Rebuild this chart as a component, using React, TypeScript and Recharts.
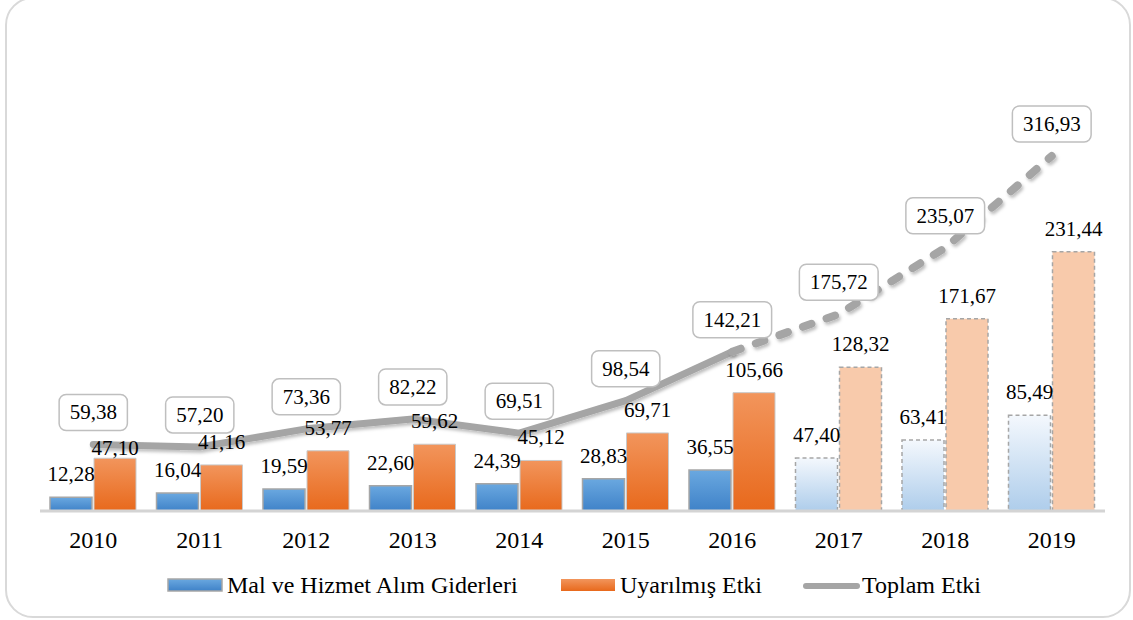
import React from 'react';
import { ComposedChart, Bar, Line, XAxis, YAxis, Cell, LabelList } from 'recharts';

const years = ['2010', '2011', '2012', '2013', '2014', '2015', '2016', '2017', '2018', '2019'];
const malHizmet = [12.28, 16.04, 19.59, 22.6, 24.39, 28.83, 36.55, 47.4, 63.41, 85.49];
const uyarilmis = [47.1, 41.16, 53.77, 59.62, 45.12, 69.71, 105.66, 128.32, 171.67, 231.44];
const toplam = [59.38, 57.2, 73.36, 82.22, 69.51, 98.54, 142.21, 175.72, 235.07, 316.93];
const lastActualIndex = 6;

const seriesNames = ['Mal ve Hizmet Alım Giderleri', 'Uyarılmış Etki', 'Toplam Etki'];

const data = years.map((y, i) => ({
  year: y,
  mal: malHizmet[i],
  uyar: uyarilmis[i],
  total: toplam[i],
  totalActual: i <= lastActualIndex ? toplam[i] : null,
  totalForecast: i >= lastActualIndex ? toplam[i] : null,
}));

const FONT = '"Liberation Serif", "Times New Roman", serif';
const fmt = (v: number) => v.toFixed(2).replace('.', ',');
const textWidth = (s: string, fs: number) =>
  s.split('').reduce((a, c) => a + (c === ',' ? 0.25 : 0.5) * fs, 0);

const BarLabel = (extraFirst: number) => (props: any) => {
  const { x, y, width, value, index } = props;
  const dy = index === 0 ? extraFirst : 0;
  return (
    <text x={x + width / 2} y={y - 16 + dy} textAnchor="middle" fontSize={21} fontFamily={FONT} fill="#000">
      {fmt(value)}
    </text>
  );
};

const LineLabel = (props: any) => {
  const { x, y, value } = props;
  if (value == null) return null;
  const s = fmt(value);
  const w = textWidth(s, 21) + 21;
  const cy = y - 32;
  return (
    <g>
      <rect x={x - w / 2} y={cy - 18} width={w} height={36} rx={7} ry={7} fill="#fff" stroke="#bfbfbf" strokeWidth={1.5} />
      <text x={x} y={cy + 7} textAnchor="middle" fontSize={21} fontFamily={FONT} fill="#000">
        {s}
      </text>
    </g>
  );
};

const Legend = () => (
  <div style={{ position: 'absolute', left: 0, top: 570, width: 1133, height: 30 }}>
    <svg width={1133} height={30}>
      <defs>
        <linearGradient id="lgBlue" x1="0" y1="0" x2="0" y2="1">
          <stop offset="0%" stopColor="#6aa8e0" />
          <stop offset="100%" stopColor="#3f82c8" />
        </linearGradient>
        <linearGradient id="lgOrange" x1="0" y1="0" x2="0" y2="1">
          <stop offset="0%" stopColor="#f2955c" />
          <stop offset="100%" stopColor="#e8691c" />
        </linearGradient>
      </defs>
      <rect x={168} y={9} width={54} height={12} fill="url(#lgBlue)" stroke="#a6a6a6" strokeWidth={1.5} />
      <text x={227} y={23} fontSize={24} fontFamily={FONT} fill="#000">{seriesNames[0]}</text>
      <rect x={561} y={9} width={54} height={12} fill="url(#lgOrange)" />
      <text x={620} y={23} fontSize={24} fontFamily={FONT} fill="#000">{seriesNames[1]}</text>
      <line x1={806} y1={16} x2={857} y2={16} stroke="#a5a5a5" strokeWidth={6} strokeLinecap="round" />
      <text x={862} y={23} fontSize={24} fontFamily={FONT} fill="#000">{seriesNames[2]}</text>
    </svg>
  </div>
);

export default function App() {
  return (
    <div style={{ position: 'absolute', left: 0, top: 0, width: 1133, height: 620, background: '#fff', overflow: 'hidden' }}>
      <div
        style={{
          position: 'absolute',
          left: 5,
          top: -3,
          width: 1126,
          height: 621,
          boxSizing: 'border-box',
          border: '2px solid #d9d9d9',
          borderRadius: 28,
        }}
      />
      <div style={{ position: 'absolute', left: 0, top: 0 }}>
        <ComposedChart
          width={1133}
          height={620}
          data={data}
          margin={{ top: 63, right: 28, left: 40, bottom: 69 }}
          barCategoryGap={10}
          barGap={2}
        >
          <defs>
            <linearGradient id="gBlue" x1="0" y1="0" x2="0" y2="1">
              <stop offset="0%" stopColor="#6aa8e0" />
              <stop offset="100%" stopColor="#3f82c8" />
            </linearGradient>
            <linearGradient id="gOrange" x1="0" y1="0" x2="0" y2="1">
              <stop offset="0%" stopColor="#f2955c" />
              <stop offset="100%" stopColor="#e8691c" />
            </linearGradient>
            <linearGradient id="gBlueFc" x1="0" y1="0" x2="0" y2="1">
              <stop offset="0%" stopColor="#f4f8fd" />
              <stop offset="100%" stopColor="#aecdeb" />
            </linearGradient>
            <filter id="shadow" x="-20%" y="-20%" width="140%" height="140%">
              <feDropShadow dx="1.5" dy="2.5" stdDeviation="1.5" floodColor="#000" floodOpacity="0.25" />
            </filter>
          </defs>
          <XAxis
            dataKey="year"
            height={40}
            axisLine={{ stroke: '#d4d4d4', strokeWidth: 3 }}
            tickLine={false}
            tickSize={0}
            tickMargin={20}
            tick={{ fontSize: 24, fontFamily: FONT, fill: '#000' }}
            interval={0}
          />
          <YAxis hide domain={[0, 400]} />
          <Bar dataKey="mal" name={seriesNames[0]} isAnimationActive={false}>
            {data.map((d, i) => (
              <Cell
                key={`m${i}`}
                fill={i <= lastActualIndex ? 'url(#gBlue)' : 'url(#gBlueFc)'}
                stroke="#a6a6a6"
                strokeWidth={1.5}
                strokeDasharray={i <= lastActualIndex ? undefined : '4 3'}
              />
            ))}
            <LabelList dataKey="mal" content={BarLabel(0)} />
          </Bar>
          <Bar dataKey="uyar" name={seriesNames[1]} isAnimationActive={false}>
            {data.map((d, i) => (
              <Cell
                key={`u${i}`}
                fill={i <= lastActualIndex ? 'url(#gOrange)' : '#f8caab'}
                stroke={i <= lastActualIndex ? '#c9c9c9' : '#a6a6a6'}
                strokeWidth={i <= lastActualIndex ? 1 : 1.5}
                strokeDasharray={i <= lastActualIndex ? undefined : '4 3'}
              />
            ))}
            <LabelList dataKey="uyar" content={BarLabel(13)} />
          </Bar>
          <Line
            dataKey="totalActual"
            name={seriesNames[2]}
            stroke="#a5a5a5"
            strokeWidth={7}
            strokeLinecap="round"
            strokeLinejoin="round"
            dot={false}
            activeDot={false}
            connectNulls={false}
            filter="url(#shadow)"
            isAnimationActive={false}
          />
          <Line
            dataKey="totalForecast"
            name={seriesNames[2]}
            stroke="#a5a5a5"
            strokeWidth={8}
            strokeDasharray="9 16"
            strokeLinecap="round"
            strokeLinejoin="round"
            dot={false}
            activeDot={false}
            filter="url(#shadow)"
            isAnimationActive={false}
            legendType="none"
          />
          <Line
            dataKey="total"
            stroke="none"
            strokeWidth={0}
            dot={false}
            activeDot={false}
            isAnimationActive={false}
            legendType="none"
          >
            <LabelList dataKey="total" content={LineLabel} />
          </Line>
        </ComposedChart>
      </div>
      <Legend />
    </div>
  );
}
